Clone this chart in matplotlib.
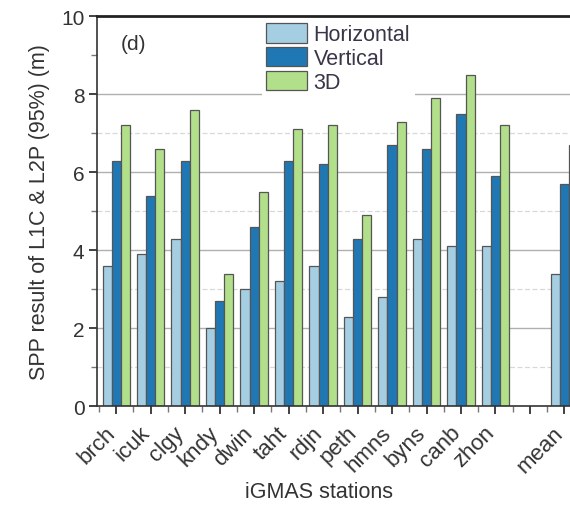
import matplotlib
matplotlib.use("Agg")
import matplotlib.pyplot as plt
import matplotlib.transforms as mtransforms
import numpy as np
from matplotlib.ticker import MultipleLocator, FixedLocator

plt.rcParams["font.family"] = ["Liberation Sans", "DejaVu Sans"]
plt.rcParams["text.color"] = "#333333"
plt.rcParams["axes.labelcolor"] = "#333333"
plt.rcParams["xtick.color"] = "#333333"
plt.rcParams["ytick.color"] = "#333333"

# SPP 95% errors (m) per iGMAS station; empty slot before "mean"
stations = ["brch", "icuk", "clgy", "kndy", "dwin", "taht", "rdjn",
            "peth", "hmns", "byns", "canb", "zhon", "", "mean"]
horizontal = [3.6, 3.9, 4.3, 2.0, 3.0, 3.2, 3.6, 2.3, 2.8, 4.3, 4.1, 4.1, np.nan, 3.4]
vertical = [6.3, 5.4, 6.3, 2.7, 4.6, 6.3, 6.2, 4.3, 6.7, 6.6, 7.5, 5.9, np.nan, 5.7]
three_d = [7.2, 6.6, 7.6, 3.4, 5.5, 7.1, 7.2, 4.9, 7.3, 7.9, 8.5, 7.2, np.nan, 6.7]

series = [("Horizontal", horizontal, "#a6cee3"),
          ("Vertical", vertical, "#1f78b4"),
          ("3D", three_d, "#b2df8a")]

fig = plt.figure(figsize=(5.7, 5.06), dpi=100)
# axes runs past the right edge of the figure, like the cropped original
ax = fig.add_axes([0.170, 0.195, 0.8535, 0.771])

x = np.arange(len(stations))
w = 0.265
for i, (name, vals, color) in enumerate(series):
    ax.bar(x + (i - 1) * w, vals, width=w, color=color, edgecolor="#555555",
           linewidth=0.9, label=name, zorder=2)

# grid: solid on major, faint dashed on odd values
for yv in [2, 4, 6, 8]:
    ax.axhline(yv, color="#b0b0b0", linewidth=1.0, zorder=1)
for yv in [1, 3, 5, 7]:
    ax.axhline(yv, color="#d8d8d8", linewidth=0.9, linestyle=(0, (4, 2)), zorder=1)

ax.set_xlim(-0.56, 13.55)
ax.set_ylim(0, 10)
ax.yaxis.set_major_locator(MultipleLocator(2))
ax.yaxis.set_minor_locator(MultipleLocator(1))
ax.set_xticks(x)
ax.set_xticklabels(stations, rotation=45, ha="right", va="center",
                   rotation_mode="anchor")
ax.xaxis.set_minor_locator(FixedLocator(np.arange(-0.5, 14, 1.0)))
ax.tick_params(axis="both", which="major", direction="out", length=5.5, width=1.3,
               labelsize=15)
ax.tick_params(axis="x", which="major", labelsize=16, pad=11)
ax.tick_params(axis="both", which="minor", direction="out", length=4, width=1.0,
               color="#777777")

# nudge the rotated station names a little to the left
shift = mtransforms.ScaledTranslation(-4 / 100, 0, fig.dpi_scale_trans)
for lab in ax.get_xticklabels():
    lab.set_transform(lab.get_transform() + shift)

for side in ["left", "bottom"]:
    ax.spines[side].set_linewidth(1.2)
    ax.spines[side].set_color("#333333")
ax.spines["top"].set_linewidth(2.0)
ax.spines["top"].set_color("#222222")

ax.set_ylabel("SPP result of L1C & L2P (95%) (m)", fontsize=15.5, labelpad=8)
fig.text(319 / 570, 1 - 493 / 506, "iGMAS stations", fontsize=15.5,
         ha="center", va="center", color="#333333")
ax.text(0.05, 0.93, "(d)", transform=ax.transAxes, fontsize=15, va="center")

leg = ax.legend(loc="upper left", bbox_to_anchor=(262 / 570, 1 - 20 / 506),
                bbox_transform=fig.transFigure, fontsize=15.5, frameon=True,
                fancybox=False, edgecolor="none", facecolor="white", framealpha=1,
                borderpad=0.2, borderaxespad=0, handlelength=1.9, handleheight=1.0,
                handletextpad=0.3, labelspacing=0.08)
for t in leg.get_texts():
    t.set_color("#3a3548")
leg.set_zorder(4)

fig.savefig("out.png", dpi=100)
